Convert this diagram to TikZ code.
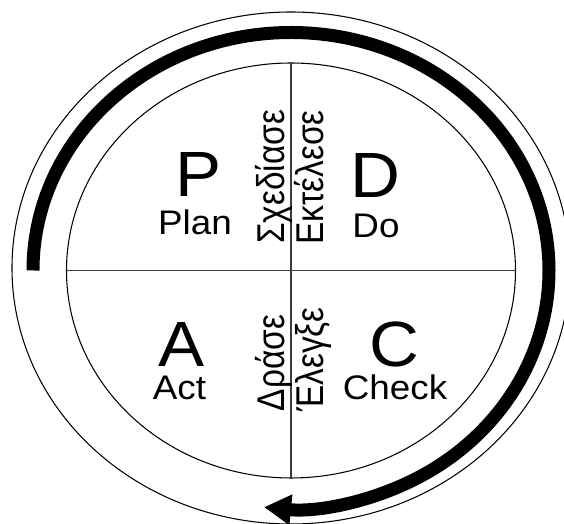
\documentclass[tikz,border=0pt]{standalone}
\usepackage{fontspec}
\setmainfont{Liberation Sans}
\usetikzlibrary{arrows.meta, shapes.geometric}
\definecolor{ink}{RGB}{0, 0, 0}
\definecolor{rule}{RGB}{60, 60, 60}
\newcommand{\wide}[1]{\scalebox{1.08}[1]{#1}}
\newcommand{\tall}[1]{\scalebox{1}[1.16]{#1}}

\begin{document}
\begin{tikzpicture}[
    big/.style={font=\fontsize{36.4}{40}\selectfont, anchor=base, text=ink, inner sep=0pt, text depth=0pt},
    word/.style={font=\fontsize{19.4}{22}\selectfont, anchor=base, text=ink, inner sep=0pt},
    greek/.style={font=\fontsize{19}{22}\selectfont, anchor=base, rotate=90, text=ink, inner sep=0pt},
    ring/.style={draw=ink, line width=0.6pt, ellipse, inner sep=0pt},
  ]
  \useasboundingbox (0,0) rectangle (11.28,10.48);
  % Outer ring and the quartered disc
  \node[ring, minimum width=11.16cm, minimum height=10.24cm] (outer) at (5.82,5.12) {};
  \node[ring, minimum width=8.98cm, minimum height=8.3cm] (inner) at (5.82,5.07) {};
  \draw[draw=rule, line width=0.6pt] (inner.north) -- (inner.south);
  \draw[draw=rule, line width=0.6pt] (inner.west) -- (inner.east);

  % Cycle arrow, clockwise from the left
  \coordinate (start) at (0.66,5.07);
  \draw[draw=ink, line width=0.26cm, -{Triangle[length=0.54cm, width=0.58cm]}]
    (start) arc[start angle=180, end angle=-96, x radius=5.16cm, y radius=4.76cm];

  % Quadrant letters
  \node[big] (p) at (3.98,6.54) {\wide{P}};
  \node[word] (plan) at (3.90,5.78) {\wide{Plan}};
  \node[big] (d) at (7.50,6.52) {\wide{D}};
  \node[word] (do) at (7.52,5.72) {\wide{Do}};
  \node[big] (a) at (3.63,3.14) {\wide{A}};
  \node[word] (act) at (3.59,2.48) {\wide{Act}};
  \node[big] (c) at (7.88,3.14) {\wide{C}};
  \node[word] (check) at (7.90,2.48) {\wide{Check}};

  % Greek words along the vertical line
  \node[greek] (plangr) at (5.68,6.94) {\tall{Σχεδίασε}};
  \node[greek] (dogr) at (6.46,6.93) {\tall{Εκτέλεσε}};
  \node[greek] (actgr) at (5.68,3.22) {\tall{Δράσε}};
  \node[greek] (checkgr) at (6.46,3.29) {\tall{Έλεγξε}};
\end{tikzpicture}
\end{document}
